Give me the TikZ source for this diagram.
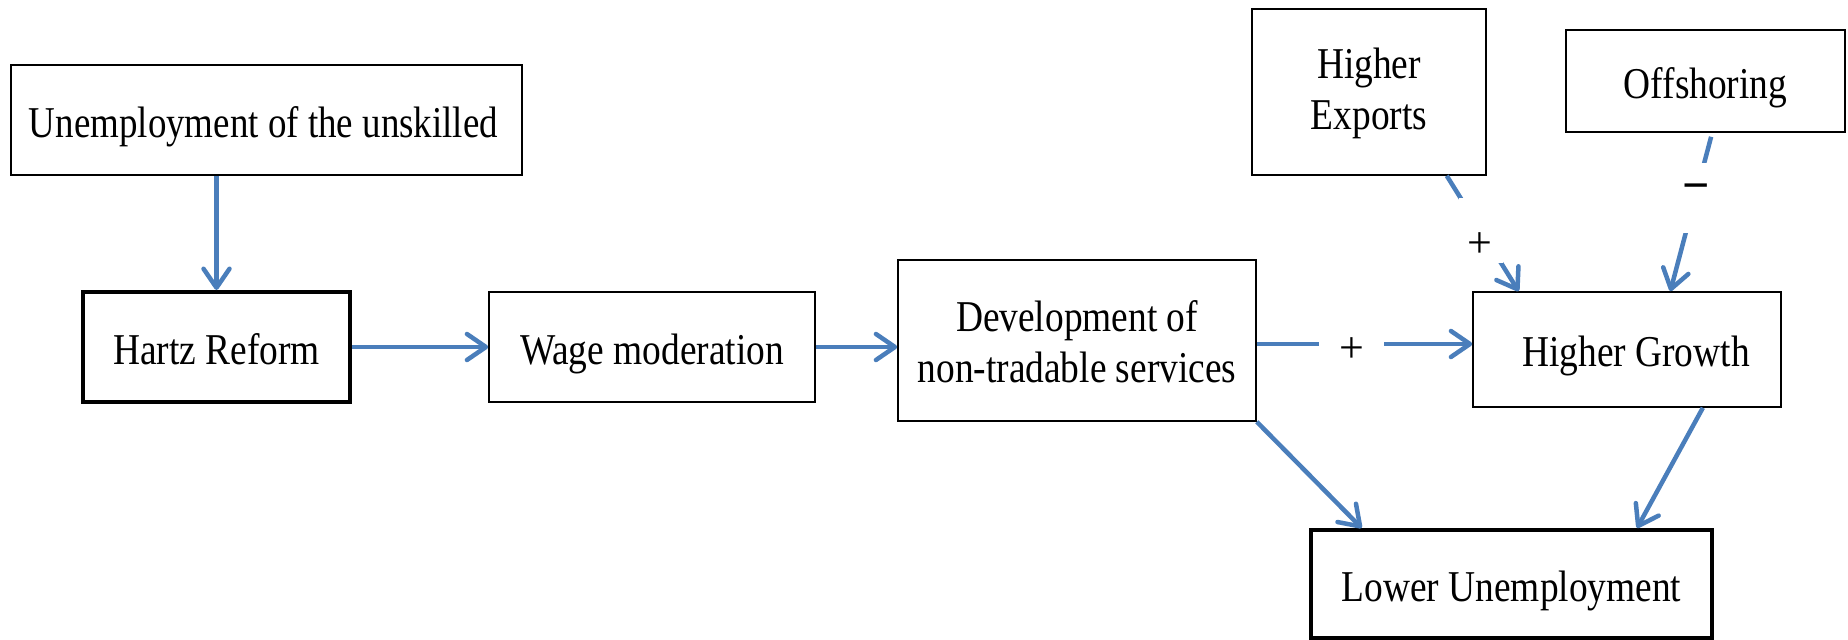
\documentclass[tikz,border=0pt]{standalone}
\usepackage{graphicx}
\usepackage{fontspec}
\setmainfont{Liberation Serif}
\usetikzlibrary{arrows.meta,calc}
\definecolor{lineblue}{RGB}{74,126,187}
\newcommand{\hs}[2][0pt]{\raisebox{#1}[\height][\depth]{\scalebox{0.85}[1]{#2}}}
\begin{document}
\begin{tikzpicture}[x=1pt,y=-1pt,
  box/.style={draw=black,line width=1.6pt,inner sep=0pt,align=center,font=\fontsize{44}{51}\selectfont},
  one/.style={text height=34pt,text depth=0pt},
  thickbox/.style={box,line width=4pt},
  arr/.style={draw=lineblue,line width=4.5pt,-{Straight Barb[length=19pt,width=26pt,round]}},
  gap/.style={fill=white,inner sep=0pt},
  sign/.style={font=\fontsize{44}{51}\selectfont,inner sep=0pt}]
\useasboundingbox (0,0) rectangle (1848,640);

\node[box,one,minimum width=511pt,minimum height=110pt] (unemp) at (266.5,120) {\hspace*{-6pt}\scalebox{0.84}[1]{Unemployment of the unskilled}};
\node[thickbox,one,minimum width=267pt,minimum height=110pt] (hartz) at (216.5,347) {\hs{Hartz Reform}};
\node[box,one,minimum width=326pt,minimum height=110pt] (wage) at (652,347) {\hs{Wage moderation}};
\node[box,minimum width=358pt,minimum height=161pt] (dev) at (1077,340.5) {\hs[-6pt]{\begin{tabular}{@{}c@{}}Development of\\non-tradable services\end{tabular}}};
\node[box,one,minimum width=308pt,minimum height=115pt] (grow) at (1627,349.5) {\hspace*{18pt}\hs{Higher Growth}};
\node[box,minimum width=234pt,minimum height=166pt] (exp) at (1369,92) {\hs[-1.5pt]{\begin{tabular}{@{}c@{}}Higher\\Exports\end{tabular}}};
\node[box,one,minimum width=279pt,minimum height=102pt] (off) at (1705.5,81) {\hs{Offshoring}};
\node[thickbox,one,minimum width=401pt,minimum height=108pt] (low) at (1511.5,584) {\hs{Lower Unemployment}};

\coordinate (devE) at ($(dev.east)+(0,3.5)$);
\coordinate (expS) at ($(exp.south west)!0.83!(exp.south east)$);
\coordinate (growN1) at ($(grow.north west)!0.15!(grow.north east)$);
\coordinate (offS) at ($(off.south west)!0.52!(off.south east)+(0,4)$);
\coordinate (growN2) at ($(grow.north west)!0.64!(grow.north east)$);
\coordinate (growS) at ($(grow.south west)!0.745!(grow.south east)$);
\coordinate (lowN1) at ($(low.north west)!0.13!(low.north east)$);
\coordinate (lowN2) at ($(low.north west)!0.81!(low.north east)$);

\draw[arr] (unemp.south -| hartz.north) -- (hartz.north);
\draw[arr] (hartz.east) -- (wage.west);
\draw[arr] (wage.east) -- (wage.east -| dev.west);
\draw[arr] (devE) -- node[gap,pos=0.44,minimum width=65pt,minimum height=30pt,font=\fontsize{44}{51}\selectfont]{\raisebox{-6pt}[\height][\depth]{+}} (devE -| grow.west);
\draw[arr] (expS) -- node[gap,pos=0.47,minimum width=44pt,minimum height=65pt]{} (growN1);
\node[sign] (plus2) at (1480,245) {+};
\draw[arr] (offS) -- node[gap,pos=0.395,minimum width=30pt,minimum height=70pt]{} (growN2);
\node[sign,font=\fontsize{48}{50}\selectfont\bfseries] (minus) at (1696,193) {−};
\draw[arr] (dev.south east) -- (lowN1);
\draw[arr] (growS) -- (lowN2);
\end{tikzpicture}
\end{document}
